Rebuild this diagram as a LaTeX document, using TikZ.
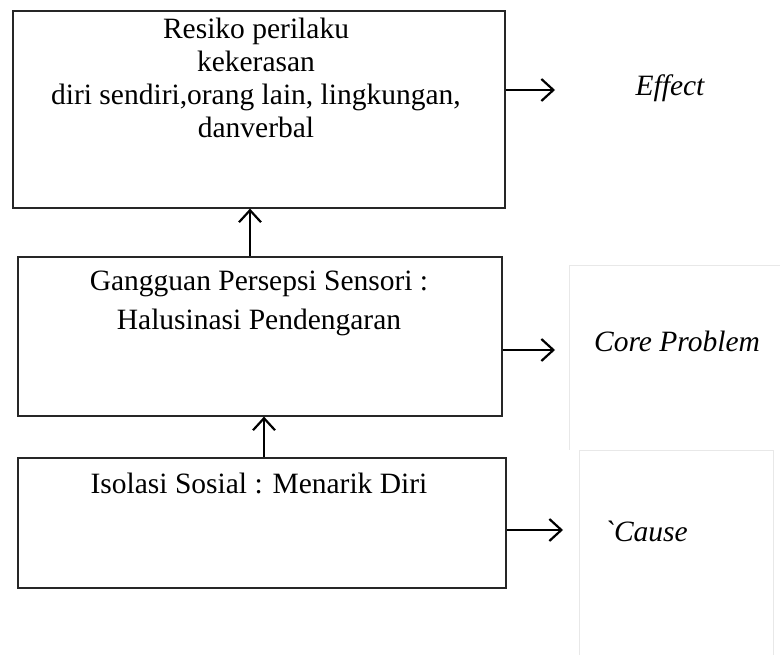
\documentclass[tikz,border=0pt]{standalone}
\usepackage{fontspec}
\setmainfont{Liberation Serif}[Ligatures=TeXOff]
\usetikzlibrary{arrows.meta}
\begin{document}
\begin{tikzpicture}[x=1pt,y=-1pt,
  boxstyle/.style={draw=black!85,line width=1.6pt},
  txt/.style={inner sep=0pt,align=center,font=\fontsize{29.5}{33}\selectfont},
  itxt/.style={inner sep=0pt,font=\fontsize{29.5}{33}\selectfont\itshape},
  arr/.style={line width=2.2pt,-{Straight Barb[length=12pt,width=22pt,line width=2.2pt]}},
  faint/.style={draw=black!9,line width=0.8pt}]
\useasboundingbox (0,0) rectangle (780,655);
\fill[white] (0,0) rectangle (780,655);
% faint frames
\draw[faint] (780,265) -- (569,265) -- (569,450);
\draw[faint] (579,655) -- (579,450) -- (773,450) -- (773,655);
% boxes
\node[inner sep=0pt,minimum width=492pt,minimum height=197pt,anchor=north west,boxstyle] (b1) at (12,10) {};
\node[inner sep=0pt,minimum width=484pt,minimum height=159pt,anchor=north west,boxstyle] (b2) at (17,256) {};
\node[inner sep=0pt,minimum width=488pt,minimum height=130pt,anchor=north west,boxstyle] (b3) at (17,457) {};
% box texts (base anchor = last line's baseline)
\node[txt,anchor=base] (t1) at (256,138) {Resiko perilaku\\kekerasan\\diri sendiri,orang lain, lingkungan,\\danverbal};
\node[txt,anchor=base,font=\fontsize{29.5}{39}\selectfont] (t2) at (259,330) {Gangguan Persepsi Sensori :\\Halusinasi Pendengaran};
\node[txt,anchor=base] (t3) at (259,493) {Isolasi Sosial : Menarik Diri};
% side labels
\coordinate (e1) at (555,90);
\coordinate (e2) at (555,350);
\coordinate (e3) at (563,530);
\node[itxt,anchor=base] (effect) at (670,96) {Effect};
\node[itxt,anchor=base] (core) at (677,352) {Core Problem};
\node[itxt,anchor=base] (cause) at (646,541) {`Cause};
% arrows
\draw[arr] (b2.north -| 250,0) -- (b1.south -| 250,0);
\draw[arr] (b3.north -| 264,0) -- (b2.south -| 264,0);
\draw[arr] (b1.east |- e1) -- (e1);
\draw[arr] (b2.east |- e2) -- (e2);
\draw[arr] (b3.east |- e3) -- (e3);
\end{tikzpicture}
\end{document}
